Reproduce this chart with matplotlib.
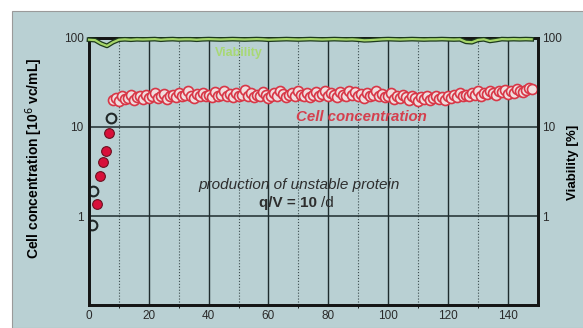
import numpy as np
import matplotlib.pyplot as plt
import matplotlib.patheffects as pe
from matplotlib.patches import Rectangle
from matplotlib.ticker import FixedLocator, NullLocator

plt.rcParams['font.family'] = ['Liberation Sans', 'DejaVu Sans']

# anlauf (satzweise)
start_days = [0.9, 1.4, 2.6, 3.7, 4.6, 5.7, 6.7, 7.2]
start_conc = [0.79, 1.93, 1.37, 2.8, 4.07, 5.4, 8.6, 12.6]
start_filled = [False, False, True, True, True, True, True, False]

# kontinuierliche phase, ein wert pro tag ab tag 8
cell_days = np.arange(8, 149)
cell_conc = [20, 21, 19.5, 22, 20.5, 21, 23, 20, 21.5, 22,
             20.5, 23, 21, 22.5, 24, 21, 22, 23.5, 20.5, 22,
             23, 21.5, 24, 22, 23, 25, 22.5, 21, 23.5, 22,
             24, 22.5, 23, 21.5, 24.5, 22, 23, 25, 22, 23.5,
             21.5, 24, 22.5, 23, 26, 22, 24, 21.5, 23, 22.5,
             24.5, 23, 21, 22.5, 24, 22, 25, 23.5, 21.5, 23,
             24, 22, 25.5, 23, 22, 24, 21.5, 23, 24.5, 22.5,
             23.5, 25, 22, 24, 23, 21.5, 24.5, 23, 22, 25,
             23, 24.5, 22, 23.5, 21, 24, 22.5, 23, 25, 22,
             23.5, 21.5, 22, 24, 20.5, 22.5, 21, 23, 21.5, 20,
             22, 21, 19.5, 21.5, 20.5, 22, 20, 21, 22.5, 20.5,
             21.5, 20, 22, 21, 23, 21.5, 24, 22, 23, 22.5,
             24, 23, 25, 22.5, 24, 23.5, 25.5, 24, 23, 25,
             24.5, 26, 23.5, 25, 24, 26.5, 25, 24.5, 26, 27, 26.5]

# viabilitaet alle 2 tage
via_days = np.arange(0, 149, 2)
viability = [95, 94, 86, 81, 89, 95, 96, 95, 96, 95.5,
             96, 96.5, 95, 96, 96.5, 95.5, 96, 96, 95, 96,
             96.5, 96, 95.5, 96, 96.5, 96, 95.5, 96, 96.5, 96,
             95, 95.5, 96, 96.5, 96, 95.5, 96, 96.5, 96, 95.5,
             96, 96.5, 96, 95.5, 96, 95, 93.5, 94, 95, 96,
             96.5, 96, 95.5, 96, 96.5, 96, 95.5, 96, 96, 96.5,
             96, 95.5, 96, 90, 89, 94.5, 96, 92, 94, 96.5,
             96, 96.5, 96, 96.5, 96]

bg = '#b9d0d3'
fig = plt.figure(figsize=(5.83, 3.28), dpi=100, facecolor='white')
fig.patches.append(Rectangle((12 / 583, 0), 1, 1 - 11 / 328, transform=fig.transFigure,
                             facecolor=bg, edgecolor='#9a9a9a', lw=0.8, zorder=-10))

ax = fig.add_axes([0.1527, 0.0686, 0.7696, 0.8164])
ax.set_facecolor(bg)
ax.set_yscale('log')
ax.set_xlim(0, 150)
ax.set_ylim(0.1, 100)

ax.xaxis.set_major_locator(FixedLocator([0, 20, 40, 60, 80, 100, 120, 140]))
ax.xaxis.set_minor_locator(FixedLocator([10, 30, 50, 70, 90, 110, 130]))
ax.yaxis.set_major_locator(FixedLocator([1, 10, 100]))
ax.yaxis.set_minor_locator(NullLocator())
ax.set_yticklabels(['1', '10', '100'])
ax.tick_params(length=0, labelsize=8.5, colors='#2a2a2a', pad=3)
ax.tick_params(axis='y', pad=4)

for x in range(20, 150, 20):
    ax.axvline(x, color='#1f2c2e', lw=1.0, zorder=1)
for x in range(10, 150, 20):
    ax.axvline(x, color='#3c4c4e', lw=0.8, ls=':', zorder=1)
for y in [1, 10]:
    ax.axhline(y, color='#1f2c2e', lw=1.1, zorder=1)

for s in ax.spines.values():
    s.set_linewidth(2)
    s.set_color('#151515')

ax.plot(cell_days, cell_conc, 'o', ms=7.2, mfc='#f0dede', mec='#d83646', mew=1.2, zorder=3)
for d, c, f in zip(start_days, start_conc, start_filled):
    if f:
        ax.plot(d, c, 'o', ms=7, mfc='#d8103a', mec='#6a1020', mew=0.8, zorder=4)
    else:
        ax.plot(d, c, 'o', ms=7, mfc='none', mec='#202828', mew=1.5, zorder=4)

ax.set_ylabel('Cell concentration [10$^6$ vc/mL]', fontsize=10, fontweight='bold')
ax.yaxis.set_label_coords(-0.098, 0.55)

ax2 = ax.twinx()
ax2.set_yscale('log')
ax2.set_ylim(0.1, 100)
ax2.yaxis.set_major_locator(FixedLocator([1, 10, 100]))
ax2.yaxis.set_minor_locator(NullLocator())
ax2.set_yticklabels(['1', '10', '100'])
ax2.tick_params(length=0, labelsize=8.5, colors='#2a2a2a', pad=3)
for s in ax2.spines.values():
    s.set_linewidth(2)
    s.set_color('#151515')
ax2.plot(via_days, viability, color='#a6d66a', lw=1.6, zorder=5, clip_on=False,
         path_effects=[pe.Stroke(linewidth=3.4, foreground='#1d3a1d'), pe.Normal()])
ax2.set_ylabel('Viability [%]', fontsize=9.5, fontweight='bold')
ax2.yaxis.set_label_coords(1.066, 0.536)

ax.text(50, 67, 'Viability', color='#a8d874', fontsize=9, fontweight='bold',
        ha='center', va='center', zorder=6)
ax.text(91, 12.9, 'Cell concentration', color='#d4404e', fontsize=10.8,
        fontweight='bold', fontstyle='italic', ha='center', va='center', zorder=6)
ax.text(70.3, 2.24, 'production of unstable protein', color='#2e2e2e', fontsize=11,
        fontstyle='italic', ha='center', va='center', zorder=6)
ax.text(76.3, 1.4, 'q/V = 10', color='#2e2e2e', fontsize=11, fontweight='bold',
        ha='right', va='center', zorder=6)
ax.text(77.6, 1.4, '/d', color='#2e2e2e', fontsize=11,
        ha='left', va='center', zorder=6)

fig.savefig('out.png', dpi=100, facecolor=fig.get_facecolor())
